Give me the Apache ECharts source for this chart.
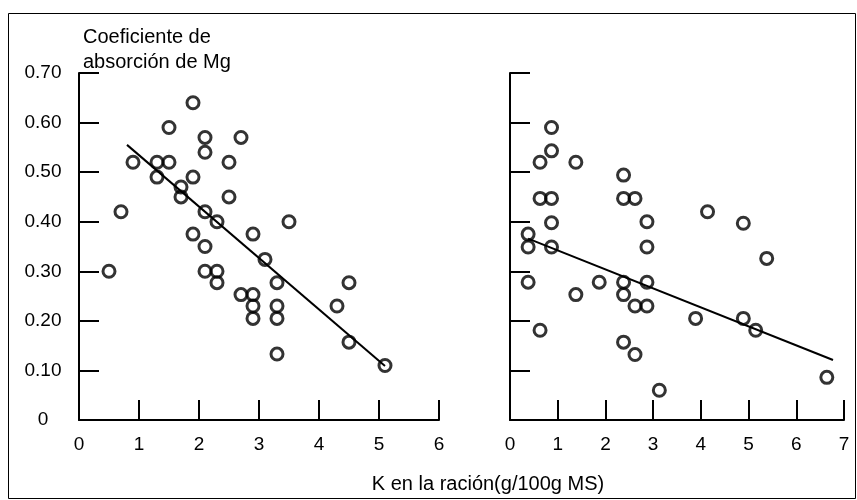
<!DOCTYPE html>
<html>
<head>
<meta charset="utf-8">
<script src="https://cdn.jsdelivr.net/npm/echarts@6/dist/echarts.min.js"></script>
<style>html,body{margin:0;padding:0;background:#fff}#c{width:857px;height:500px}</style>
</head>
<body>
<div id="c"></div>
<script>
// Left panel data: K (g/100g MS) vs Mg absorption coefficient
const leftK = [0.5,0.7,0.9,1.3,1.3,1.5,1.5,1.7,1.7,1.9,1.9,1.9,2.1,2.1,2.1,2.1,2.1,2.3,2.3,2.3,2.5,2.5,2.7,2.7,2.9,2.9,2.9,2.9,3.1,3.3,3.3,3.3,3.3,3.5,4.3,4.5,4.5,5.1];
const leftMg = [0.30,0.42,0.52,0.52,0.49,0.59,0.52,0.47,0.45,0.64,0.49,0.375,0.57,0.54,0.42,0.35,0.30,0.40,0.30,0.277,0.52,0.45,0.57,0.253,0.375,0.253,0.23,0.205,0.324,0.277,0.23,0.205,0.133,0.40,0.23,0.277,0.157,0.11];
const leftFitK = [0.8,5.1];
const leftFitMg = [0.555,0.109];

// Right panel data
const rightK = [0.38,0.38,0.38,0.63,0.63,0.63,0.87,0.87,0.87,0.87,0.87,1.38,1.38,1.87,2.38,2.38,2.38,2.38,2.38,2.62,2.62,2.62,2.87,2.87,2.87,2.87,3.13,3.89,4.14,4.89,4.89,5.15,5.38,6.64];
const rightMg = [0.375,0.349,0.278,0.52,0.447,0.181,0.59,0.543,0.447,0.398,0.349,0.52,0.253,0.278,0.494,0.447,0.278,0.253,0.157,0.447,0.23,0.132,0.40,0.349,0.278,0.23,0.06,0.205,0.42,0.397,0.205,0.181,0.326,0.086];
const rightFitK = [0.38,6.77];
const rightFitMg = [0.366,0.121];

const yTitle = "Coeficiente de\nabsorción de Mg";
const xTitle = "K en la ración(g/100g MS)";

function pairs(a,b){return a.map((v,i)=>[v,b[i]]);}

const FONT = 'Liberation Sans, Arial, sans-serif';
const axisLineStyle = {lineStyle:{color:'#000',width:2}};
const tickStyle = {show:true,inside:true,length:20,lineStyle:{color:'#000',width:2}};
const lblStyle = {color:'#000',fontSize:19,fontFamily:FONT};
const markerStyle = {color:'rgba(0,0,0,0)',borderColor:'#000',borderWidth:3};

function yAxis(idx, showLabels){
  return {type:'value',gridIndex:idx,min:0,max:0.7,interval:0.1,
    axisLine:axisLineStyle,axisTick:tickStyle,splitLine:{show:false},
    axisLabel:Object.assign({show:showLabels,margin:36,align:'center',
      formatter:v=>v===0?'0':v.toFixed(2)},lblStyle)};
}
function xAxis(idx,max){
  return {type:'value',gridIndex:idx,min:0,max:max,interval:1,
    axisLine:axisLineStyle,axisTick:tickStyle,splitLine:{show:false},
    axisLabel:Object.assign({margin:15},lblStyle)};
}

const chart = echarts.init(document.getElementById('c'),null,{renderer:'canvas'});
chart.setOption({
  backgroundColor:'#fff',
  animation:false,
  grid:[
    {left:79,width:360,top:73,bottom:80},
    {left:510,width:334,top:73,bottom:80}
  ],
  xAxis:[xAxis(0,6),xAxis(1,7)],
  yAxis:[yAxis(0,true),yAxis(1,false)],
  series:[
    {type:'scatter',xAxisIndex:0,yAxisIndex:0,data:pairs(leftK,leftMg),symbol:'circle',symbolSize:12,itemStyle:markerStyle,z:3},
    {type:'line',xAxisIndex:0,yAxisIndex:0,data:pairs(leftFitK,leftFitMg),showSymbol:false,symbol:'none',lineStyle:{color:'#000',width:2},z:2},
    {type:'scatter',xAxisIndex:1,yAxisIndex:1,data:pairs(rightK,rightMg),symbol:'circle',symbolSize:12,itemStyle:markerStyle,z:3},
    {type:'line',xAxisIndex:1,yAxisIndex:1,data:pairs(rightFitK,rightFitMg),showSymbol:false,symbol:'none',lineStyle:{color:'#000',width:2},z:2}
  ],
  graphic:[
    {type:'rect',shape:{x:8.5,y:13.5,width:847,height:485},style:{fill:'none',stroke:'#000',lineWidth:1},silent:true},
    {type:'text',left:83,top:25,style:{text:yTitle,fill:'#000',font:'20px '+FONT,lineHeight:25}},
    {type:'text',x:488,y:484,style:{text:xTitle,fill:'#000',font:'20px '+FONT,textAlign:'center',textVerticalAlign:'middle'}}
  ]
});
</script>
</body>
</html>
